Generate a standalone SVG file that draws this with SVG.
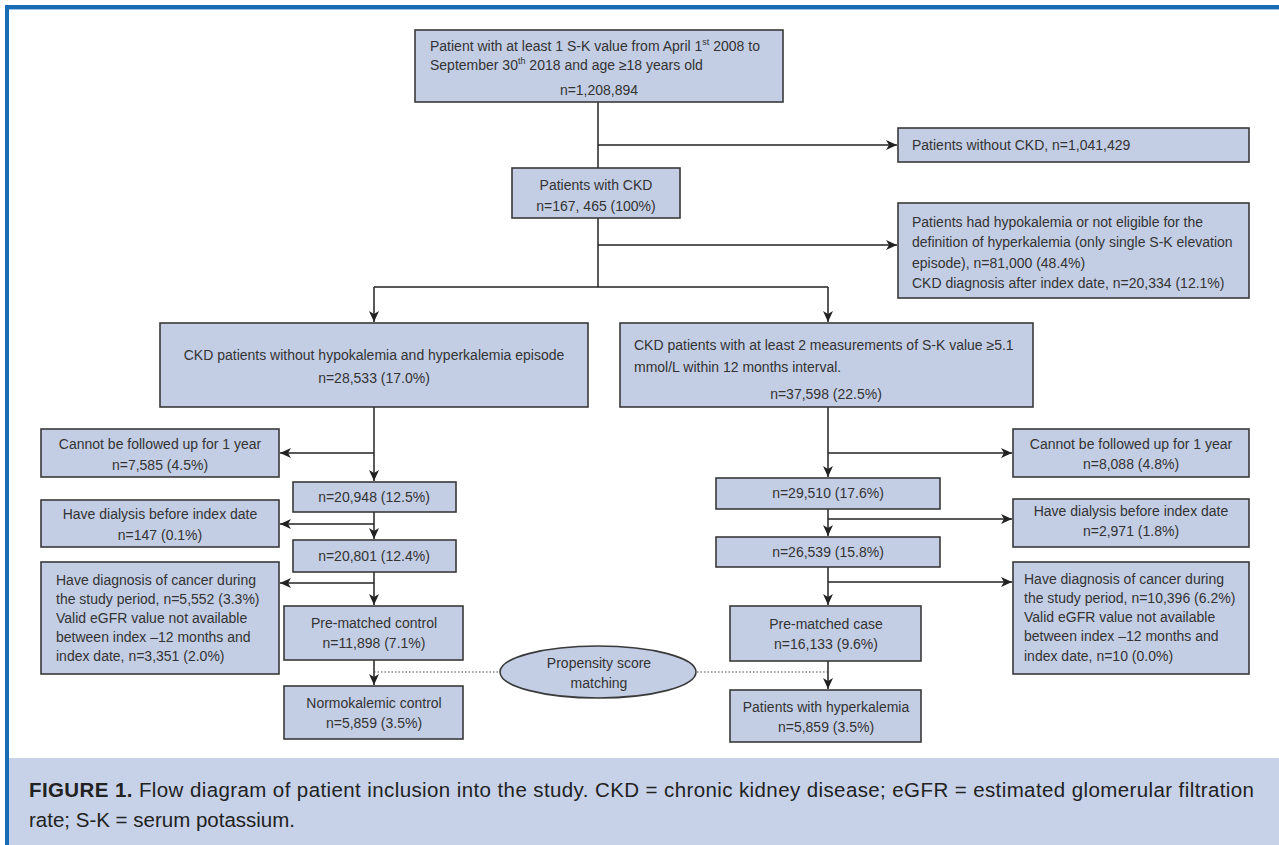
<svg xmlns="http://www.w3.org/2000/svg" width="1279" height="845" viewBox="0 0 1279 845">
<defs>
<marker id="ah" markerUnits="userSpaceOnUse" markerWidth="12" markerHeight="10" refX="11" refY="5" orient="auto">
<path d="M0,0 L11,5 L0,10 L3,5 Z" fill="#222"/>
</marker>
</defs>
<style>
.box{fill:#c3cee5;stroke:#3a3a3a;stroke-width:1.6}
.t{font-family:"Liberation Sans",Arial,sans-serif;font-size:14px;fill:#333}
.c{text-anchor:middle}
.ln{stroke:#222;stroke-width:1.5;fill:none}
.ar{stroke:#222;stroke-width:1.5;fill:none;marker-end:url(#ah)}
.dot{stroke:#444;stroke-width:1.2;stroke-dasharray:1.5 2;fill:none}
.cap{font-family:"Liberation Sans",Arial,sans-serif;font-size:20.5px;fill:#222}
.sup{font-size:9px}
</style>
<rect x="0" y="0" width="1279" height="845" fill="#ffffff"/>
<!-- frame -->
<rect x="9" y="758" width="1270" height="87" fill="#c7d2e8"/>
<line x1="5" y1="7" x2="1279" y2="7" stroke="#1a6db5" stroke-width="4"/>
<line x1="7" y1="5" x2="7" y2="845" stroke="#1a6db5" stroke-width="4"/>
<line x1="9" y1="9.5" x2="1279" y2="9.5" stroke="#9cc3e6" stroke-width="1"/>

<g id="connectors">
<line class="ln" x1="598" y1="102" x2="598" y2="168"/>
<line class="ar" x1="598" y1="145" x2="897" y2="145"/>
<line class="ln" x1="598" y1="218" x2="598" y2="287"/>
<line class="ar" x1="598" y1="245" x2="897" y2="245"/>
<line class="ln" x1="374" y1="287" x2="828" y2="287"/>
<line class="ar" x1="374" y1="287" x2="374" y2="322"/>
<line class="ar" x1="828" y1="287" x2="828" y2="322"/>
<!-- left column -->
<line class="ar" x1="374" y1="407" x2="374" y2="481"/>
<line class="ar" x1="374" y1="453" x2="280" y2="453"/>
<line class="ar" x1="374" y1="512" x2="374" y2="539"/>
<line class="ar" x1="374" y1="524" x2="280" y2="524"/>
<line class="ar" x1="374" y1="572" x2="374" y2="605"/>
<line class="ar" x1="374" y1="583" x2="280" y2="583"/>
<line class="ar" x1="374" y1="660" x2="374" y2="685"/>
<line class="dot" x1="374" y1="672" x2="500" y2="672"/>
<!-- right column -->
<line class="ar" x1="828" y1="407" x2="828" y2="477"/>
<line class="ar" x1="828" y1="453" x2="1012" y2="453"/>
<line class="ar" x1="828" y1="509" x2="828" y2="536"/>
<line class="ar" x1="828" y1="519" x2="1012" y2="519"/>
<line class="ar" x1="828" y1="567" x2="828" y2="605"/>
<line class="ar" x1="828" y1="582" x2="1012" y2="582"/>
<line class="ar" x1="828" y1="661" x2="828" y2="689"/>
<line class="dot" x1="697" y1="672" x2="828" y2="672"/>
</g>

<g id="n-start">
<rect class="box" x="415" y="30" width="368" height="72"/>
<text class="t" x="430" y="51">Patient with at least 1 S-K value from April 1<tspan class="sup" dy="-6">st</tspan><tspan dy="6"> 2008 to</tspan></text>
<text class="t" x="430" y="70">September 30<tspan class="sup" dy="-6">th</tspan><tspan dy="6"> 2018 and age ≥18 years old</tspan></text>
<text class="t c" x="599" y="95">n=1,208,894</text>
</g>
<g id="n-nockd">
<rect class="box" x="898" y="128" width="351" height="34"/>
<text class="t" x="912" y="150">Patients without CKD, n=1,041,429</text>
</g>
<g id="n-ckd">
<rect class="box" x="512" y="168" width="168" height="50"/>
<text class="t c" x="596" y="190">Patients with CKD</text>
<text class="t c" x="596" y="211">n=167, 465 (100%)</text>
</g>
<g id="n-hypo">
<rect class="box" x="898" y="203" width="351" height="95"/>
<text class="t" x="912" y="227">Patients had hypokalemia or not eligible for the</text>
<text class="t" x="912" y="247">definition of hyperkalemia (only single S-K elevation</text>
<text class="t" x="912" y="268">episode), n=81,000 (48.4%)</text>
<text class="t" x="912" y="288">CKD diagnosis after index date, n=20,334 (12.1%)</text>
</g>
<g id="n-left">
<rect class="box" x="160" y="323" width="428" height="84"/>
<text class="t c" x="374" y="360">CKD patients without hypokalemia and hyperkalemia episode</text>
<text class="t c" x="374" y="383">n=28,533 (17.0%)</text>
</g>
<g id="n-right">
<rect class="box" x="620" y="323" width="413" height="84"/>
<text class="t" x="634" y="350">CKD patients with at least 2 measurements of S-K value ≥5.1</text>
<text class="t" x="634" y="372">mmol/L within 12 months interval.</text>
<text class="t c" x="826" y="399">n=37,598 (22.5%)</text>
</g>

<g id="n-l-follow">
<rect class="box" x="41" y="429" width="238" height="48"/>
<text class="t c" x="160" y="449">Cannot be followed up for 1 year</text>
<text class="t c" x="160" y="470">n=7,585 (4.5%)</text>
</g>
<g id="n-l-20948">
<rect class="box" x="293" y="482" width="163" height="30"/>
<text class="t c" x="374" y="502">n=20,948 (12.5%)</text>
</g>
<g id="n-l-dialysis">
<rect class="box" x="41" y="500" width="238" height="47"/>
<text class="t c" x="160" y="519">Have dialysis before index date</text>
<text class="t c" x="160" y="540">n=147 (0.1%)</text>
</g>
<g id="n-l-20801">
<rect class="box" x="293" y="540" width="163" height="32"/>
<text class="t c" x="374" y="561">n=20,801 (12.4%)</text>
</g>
<g id="n-l-cancer">
<rect class="box" x="41" y="562" width="238" height="112"/>
<text class="t" x="56" y="585">Have diagnosis of cancer during</text>
<text class="t" x="56" y="604">the study period, n=5,552 (3.3%)</text>
<text class="t" x="56" y="623">Valid eGFR value not available</text>
<text class="t" x="56" y="642">between index –12 months and</text>
<text class="t" x="56" y="661">index date, n=3,351 (2.0%)</text>
</g>
<g id="n-l-prematched">
<rect class="box" x="284" y="606" width="179" height="54"/>
<text class="t c" x="374" y="628">Pre-matched control</text>
<text class="t c" x="374" y="648">n=11,898 (7.1%)</text>
</g>
<g id="n-l-normo">
<rect class="box" x="284" y="686" width="179" height="53"/>
<text class="t c" x="374" y="708">Normokalemic control</text>
<text class="t c" x="374" y="728">n=5,859 (3.5%)</text>
</g>
<g id="n-psm">
<ellipse class="box" cx="598" cy="672" rx="98" ry="26"/>
<text class="t c" x="599" y="668">Propensity score</text>
<text class="t c" x="599" y="688">matching</text>
</g>

<g id="n-r-follow">
<rect class="box" x="1013" y="429" width="236" height="48"/>
<text class="t c" x="1131" y="449">Cannot be followed up for 1 year</text>
<text class="t c" x="1131" y="469">n=8,088 (4.8%)</text>
</g>
<g id="n-r-29510">
<rect class="box" x="716" y="478" width="224" height="31"/>
<text class="t c" x="828" y="498">n=29,510 (17.6%)</text>
</g>
<g id="n-r-dialysis">
<rect class="box" x="1013" y="499" width="236" height="48"/>
<text class="t c" x="1131" y="516">Have dialysis before index date</text>
<text class="t c" x="1131" y="536">n=2,971 (1.8%)</text>
</g>
<g id="n-r-26539">
<rect class="box" x="716" y="537" width="224" height="30"/>
<text class="t c" x="828" y="557">n=26,539 (15.8%)</text>
</g>
<g id="n-r-cancer">
<rect class="box" x="1013" y="562" width="236" height="112"/>
<text class="t" x="1024" y="584">Have diagnosis of cancer during</text>
<text class="t" x="1024" y="603">the study period, n=10,396 (6.2%)</text>
<text class="t" x="1024" y="622">Valid eGFR value not available</text>
<text class="t" x="1024" y="641">between index –12 months and</text>
<text class="t" x="1024" y="661">index date, n=10 (0.0%)</text>
</g>
<g id="n-r-prematched">
<rect class="box" x="730" y="606" width="191" height="55"/>
<text class="t c" x="826" y="629">Pre-matched case</text>
<text class="t c" x="826" y="649">n=16,133 (9.6%)</text>
</g>
<g id="n-r-hyper">
<rect class="box" x="730" y="690" width="191" height="52"/>
<text class="t c" x="826" y="712">Patients with hyperkalemia</text>
<text class="t c" x="826" y="732">n=5,859 (3.5%)</text>
</g>

<g id="caption">
<text class="cap" x="29" y="797" textLength="1225" lengthAdjust="spacing"><tspan font-weight="bold">FIGURE 1.</tspan> Flow diagram of patient inclusion into the study. CKD = chronic kidney disease; eGFR = estimated glomerular filtration</text>
<text class="cap" x="29" y="827">rate; S-K = serum potassium.</text>
</g>
</svg>
